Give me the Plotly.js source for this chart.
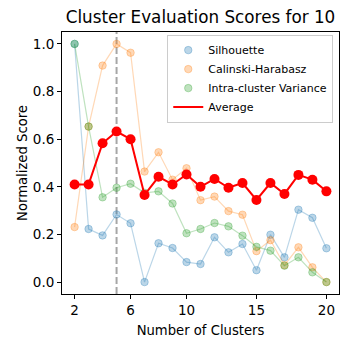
<!DOCTYPE html>
<html>
<head>
<meta charset="utf-8">
<script src="https://cdn.plot.ly/plotly-3.0.1.min.js"></script>
<style>
  body { margin: 0; background: #fff; }
  #chart { width: 350px; height: 348px; }
</style>
</head>
<body>
<div id="chart"></div>
<script>
// cluster counts and normalized scores
var clusters = [2, 3, 4, 5, 6, 7, 8, 9, 10, 11, 12, 13, 14, 15, 16, 17, 18, 19, 20];
var silhouette = [1.0, 0.223, 0.196, 0.284, 0.247, 0.0, 0.163, 0.143, 0.084, 0.076, 0.188, 0.125, 0.16, 0.05, 0.199, 0.104, 0.304, 0.27, 0.142];
var calinski = [0.231, 0.653, 0.909, 1.0, 0.963, 0.464, 0.545, 0.43, 0.478, 0.344, 0.359, 0.298, 0.283, 0.13, 0.176, 0.071, 0.146, 0.062, 0.0];
var variance = [1.0, 0.653, 0.356, 0.396, 0.413, 0.375, 0.381, 0.33, 0.205, 0.223, 0.248, 0.234, 0.195, 0.148, 0.132, 0.069, 0.104, 0.041, 0.0];
var average = [0.41, 0.41, 0.583, 0.632, 0.60, 0.366, 0.442, 0.41, 0.452, 0.40, 0.433, 0.396, 0.416, 0.345, 0.416, 0.37, 0.45, 0.43, 0.381];
var bestK = 5;
var xTicks = [2, 6, 10, 15, 20];
var yTicks = [0.0, 0.2, 0.4, 0.6, 0.8, 1.0];

var font = "DejaVu Sans, sans-serif";

function faded(name, ys, rgb) {
  var col = 'rgba(' + rgb + ',0.3)';
  var line = {
    x: clusters, y: ys, mode: 'lines', showlegend: false,
    line: { color: col, width: 1.2 }, hoverinfo: 'skip'
  };
  var pts = {
    x: clusters, y: ys, mode: 'markers', name: name,
    marker: { color: col, size: 7.5, line: { color: col, width: 1 } }
  };
  return [line, pts];
}

var data = [].concat(
  faded('Silhouette', silhouette, '31,119,180'),
  faded('Calinski-Harabasz', calinski, '255,127,14'),
  faded('Intra-cluster Variance', variance, '44,160,44')
);

// average: legend shows the line only
data.push({
  x: clusters, y: average, mode: 'lines', name: 'Average',
  line: { color: '#ff0000', width: 2 }
});
data.push({
  x: clusters, y: average, mode: 'markers', showlegend: false,
  marker: { color: '#ff0000', size: 10 }
});

var layout = {
  width: 350,
  height: 348,
  margin: { l: 62, r: 11, t: 32, b: 54 },
  paper_bgcolor: '#fff',
  plot_bgcolor: '#fff',
  font: { family: font, size: 13, color: '#000' },
  title: {
    text: 'Cluster Evaluation Scores for 10',
    font: { size: 16.8 },
    xref: 'paper', x: 0.5, xanchor: 'center',
    y: 1 - 17 / 348, yref: 'container', yanchor: 'middle'
  },
  xaxis: {
    range: [1.1, 20.9],
    tickvals: xTicks,
    ticktext: xTicks.map(String),
    tickfont: { size: 13.5 },
    ticks: 'outside', ticklen: 4, tickcolor: '#000',
    showline: true, mirror: true, linecolor: '#000', linewidth: 1,
    showgrid: false, zeroline: false,
    title: { text: 'Number of Clusters', font: { size: 13.2 }, standoff: 8 }
  },
  yaxis: {
    range: [-0.05, 1.05],
    tickvals: yTicks,
    ticktext: yTicks.map(function (v) { return v.toFixed(1); }),
    tickfont: { size: 13.5 },
    ticks: 'outside', ticklen: 4, tickcolor: '#000',
    showline: true, mirror: true, linecolor: '#000', linewidth: 1,
    showgrid: false, zeroline: false,
    title: { text: 'Normalized Score', font: { size: 13.2 }, standoff: 2 }
  },
  legend: {
    x: 0.38, y: 0.99, xanchor: 'left', yanchor: 'top',
    bgcolor: 'rgba(255,255,255,0.8)',
    bordercolor: '#cccccc', borderwidth: 1,
    font: { size: 11 },
    itemwidth: 30,
    tracegroupgap: 0
  },
  shapes: [{
    type: 'line', layer: 'below',
    xref: 'x', yref: 'paper',
    x0: bestK, x1: bestK, y0: 0, y1: 1,
    line: { color: 'rgba(128,128,128,0.7)', width: 2, dash: '7px,3px' }
  }]
};

Plotly.newPlot('chart', data, layout, { displayModeBar: false, staticPlot: true });
</script>
</body>
</html>
